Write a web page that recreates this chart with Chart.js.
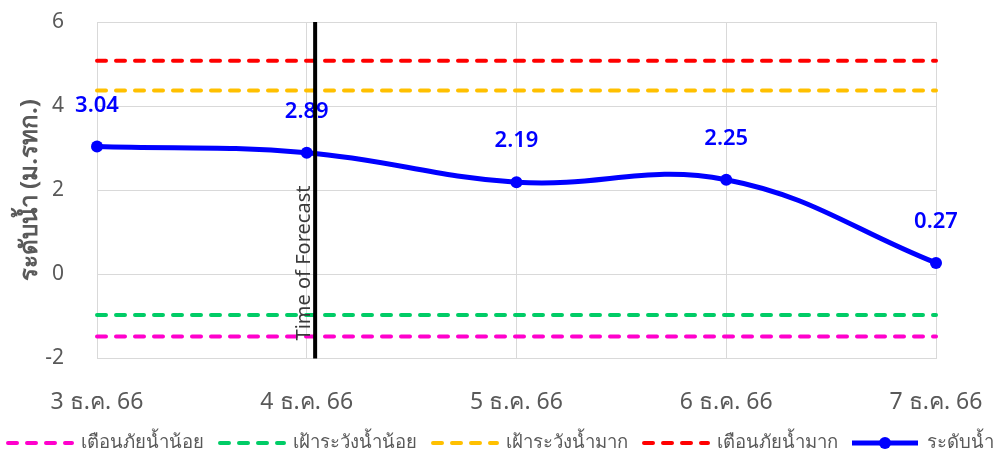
<!DOCTYPE html>
<html lang="th">
<head>
  <meta charset="UTF-8">
  <title>ระดับน้ำ</title>
  <script src="https://cdn.jsdelivr.net/npm/chart.js"></script>
  <style>
    html, body { margin: 0; padding: 0; background: #fff; }
    .wrap { width: 1000px; height: 456px; }
  </style>
</head>
<body>
  <div class="wrap"><canvas id="chartNam"></canvas></div>

  <script>
    // ข้อมูล
    const labels = ['3 ธ.ค. 66', '4 ธ.ค. 66', '5 ธ.ค. 66', '6 ธ.ค. 66', '7 ธ.ค. 66'];
    const waterLevel = [3.04, 2.89, 2.19, 2.25, 0.27];
    const warnLow = [-1.48, -1.48, -1.48, -1.48, -1.48];
    const watchLow = [-0.97, -0.97, -0.97, -0.97, -0.97];
    const watchHigh = [4.37, 4.37, 4.37, 4.37, 4.37];
    const warnHigh = [5.08, 5.08, 5.08, 5.08, 5.08];
    const yTicks = [-2, 0, 2, 4, 6];
    const forecastIndex = 1.04;

    const FONT = "'Noto Sans', 'DejaVu Sans', sans-serif";
    const GRAY = '#595959';

    function dashed(label, data, color) {
      return {
        label: label,
        data: data,
        borderColor: color,
        backgroundColor: color,
        borderWidth: 4,
        borderDash: [9, 10],
        borderCapStyle: 'round',
        pointRadius: 0,
        pointHoverRadius: 0,
        fill: false,
        order: 1
      };
    }

    // เส้น Time of Forecast + ค่าบนจุด + legend
    const extras = {
      id: 'extras',
      afterDatasetsDraw(chart) {
        const ctx = chart.ctx;
        const area = chart.chartArea;
        const meta = chart.getDatasetMeta(4);

        ctx.save();
        ctx.fillStyle = '#0000ff';
        ctx.font = '600 22px ' + FONT;
        ctx.textAlign = 'center';
        ctx.textBaseline = 'middle';
        meta.data.forEach((pt, i) => {
          ctx.fillText(waterLevel[i].toFixed(2), pt.x, pt.y - 41);
        });

        const x = chart.scales.x.getPixelForValue(forecastIndex);
        ctx.strokeStyle = '#000';
        ctx.lineWidth = 4;
        ctx.beginPath();
        ctx.moveTo(x, area.top);
        ctx.lineTo(x, area.bottom);
        ctx.stroke();

        ctx.translate(x - 1, 263);
        ctx.rotate(-Math.PI / 2);
        ctx.fillStyle = '#3a3a3a';
        ctx.font = '20px ' + FONT;
        ctx.textAlign = 'center';
        ctx.textBaseline = 'bottom';
        ctx.fillText('Time of Forecast', 0, 0);
        ctx.restore();
      },
      afterDraw(chart) {
        const ctx = chart.ctx;
        const ds = chart.data.datasets;
        const sample = 66, gapText = 9, gapItem = 14, y = 443;
        ctx.save();
        ctx.font = '18.5px ' + FONT;
        const widths = ds.map(d => sample + gapText + ctx.measureText(d.label).width);
        const total = widths.reduce((a, b) => a + b, 0) + gapItem * (ds.length - 1);
        let x = (chart.width - total) / 2;
        ds.forEach((d, i) => {
          ctx.strokeStyle = d.borderColor;
          ctx.lineWidth = d.borderWidth;
          ctx.lineCap = d.borderDash ? 'round' : 'butt';
          ctx.setLineDash(d.borderDash || []);
          ctx.beginPath();
          ctx.moveTo(x + (d.borderDash ? 2 : 0), y);
          ctx.lineTo(x + sample, y);
          ctx.stroke();
          ctx.setLineDash([]);
          if (!d.borderDash) {
            ctx.fillStyle = d.borderColor;
            ctx.beginPath();
            ctx.arc(x + sample / 2, y, 6, 0, Math.PI * 2);
            ctx.fill();
          }
          ctx.fillStyle = GRAY;
          ctx.textAlign = 'left';
          ctx.textBaseline = 'middle';
          ctx.fillText(d.label, x + sample + gapText, y);
          x += widths[i] + gapItem;
        });
        ctx.restore();
      }
    };

    new Chart(document.getElementById('chartNam'), {
      type: 'line',
      data: {
        labels: labels,
        datasets: [
          dashed('เตือนภัยน้ำน้อย', warnLow, '#ff00cc'),
          dashed('เฝ้าระวังน้ำน้อย', watchLow, '#00cc66'),
          dashed('เฝ้าระวังน้ำมาก', watchHigh, '#ffc000'),
          dashed('เตือนภัยน้ำมาก', warnHigh, '#ff0000'),
          {
            label: 'ระดับน้ำ',
            data: waterLevel,
            borderColor: '#0000ff',
            backgroundColor: '#0000ff',
            borderWidth: 5,
            tension: 0.4,
            pointRadius: 6,
            pointBackgroundColor: '#0000ff',
            pointBorderWidth: 0,
            fill: false,
            order: 0
          }
        ]
      },
      options: {
        responsive: true,
        maintainAspectRatio: false,
        animation: false,
        layout: { padding: { left: 0, right: 64, top: 22, bottom: 10 } },
        plugins: {
          tooltip: { enabled: false },
          legend: { display: false }
        },
        scales: {
          x: {
            afterFit: scale => { scale.paddingLeft = 0; scale.paddingRight = 0; },
            grid: { color: '#d9d9d9', drawTicks: false },
            border: { color: '#d9d9d9' },
            ticks: { color: GRAY, font: { family: FONT, size: 23 }, padding: 30, maxRotation: 0 }
          },
          y: {
            min: -2,
            max: 6,
            afterBuildTicks: scale => { scale.ticks = yTicks.map(v => ({ value: v })); },
            afterFit: scale => { scale.width = 97; scale.paddingTop = 0; scale.paddingBottom = 0; },
            grid: { color: '#d9d9d9', drawTicks: false },
            border: { color: '#d9d9d9' },
            ticks: { color: GRAY, font: { family: FONT, size: 21 }, padding: 33 },
            title: {
              display: true,
              text: 'ระดับน้ำ (ม.รทก.)',
              color: GRAY,
              font: { family: FONT, size: 24, weight: 'bold' },
              padding: { top: 16, bottom: 0 }
            }
          }
        }
      },
      plugins: [extras]
    });
  </script>
</body>
</html>
